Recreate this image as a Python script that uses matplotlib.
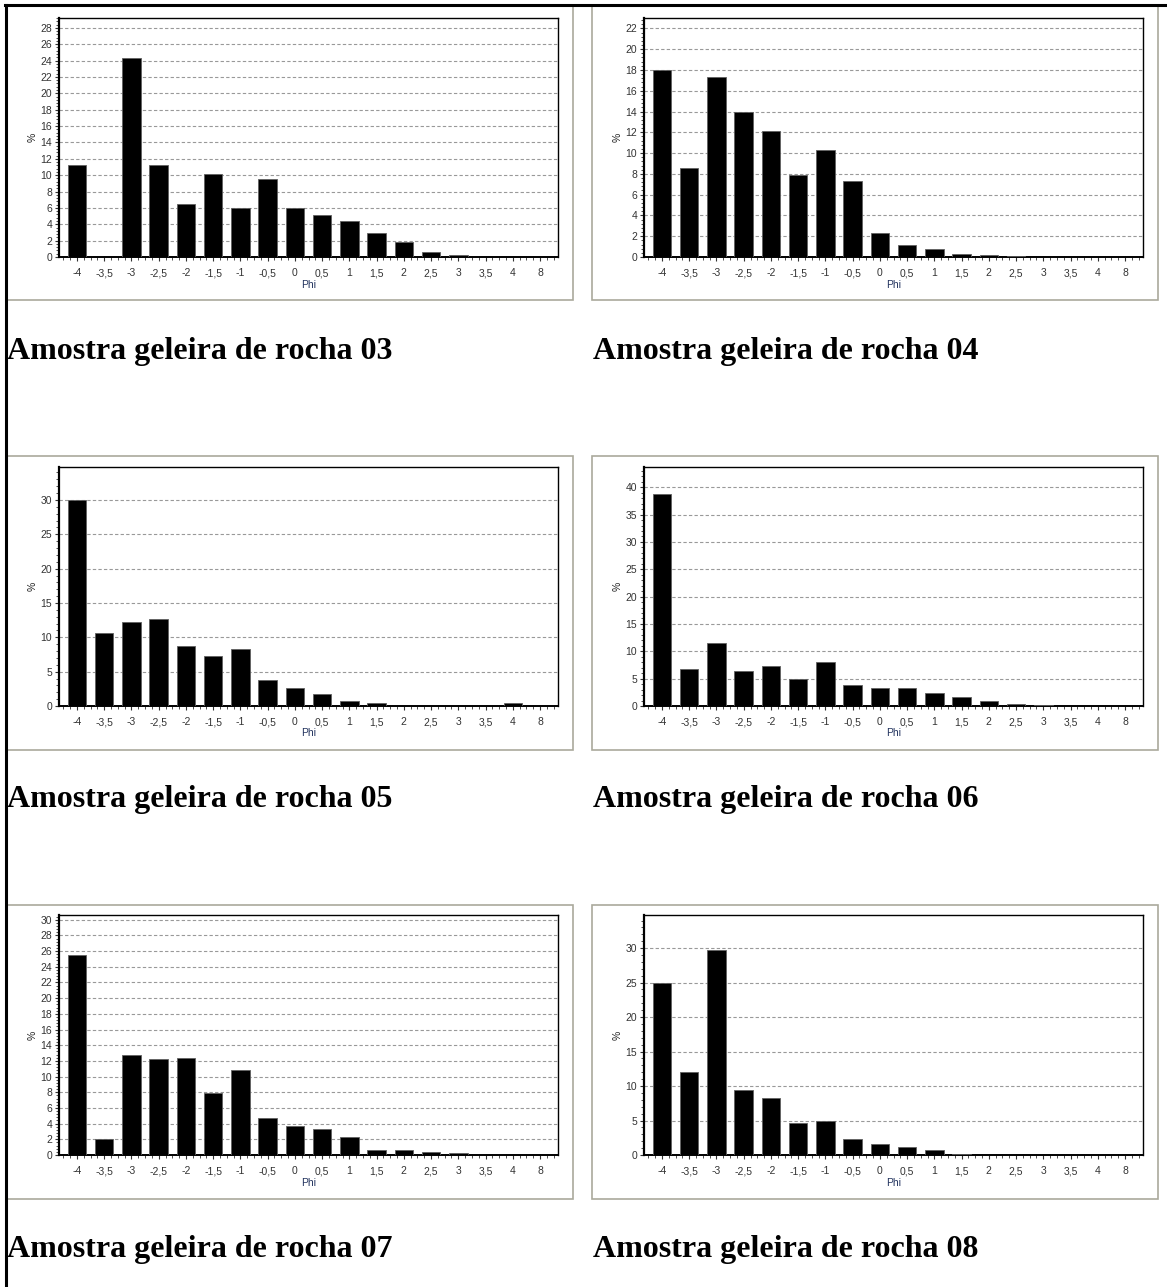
import numpy as np
import matplotlib
matplotlib.use('Agg')
import matplotlib.pyplot as plt
from matplotlib.ticker import MultipleLocator, AutoMinorLocator
from matplotlib.lines import Line2D
from matplotlib.patches import Rectangle

# phi classes (x categories)
phi_labels = ['-4', '-3,5', '-3', '-2,5', '-2', '-1,5', '-1', '-0,5', '0',
              '0,5', '1', '1,5', '2', '2,5', '3', '3,5', '4', '8']

# percentages per sample
s03 = [11.2, 0, 24.3, 11.3, 6.5, 10.2, 6.0, 9.5, 6.0, 5.1, 4.4, 2.9, 1.85, 0.55, 0.3, 0, 0, 0]
s04 = [18.0, 8.6, 17.3, 14.0, 12.1, 7.9, 10.3, 7.3, 2.3, 1.2, 0.75, 0.25, 0.15, 0.05, 0.03, 0.02, 0.02, 0]
s05 = [30.0, 10.6, 12.3, 12.6, 8.7, 7.3, 8.3, 3.8, 2.6, 1.75, 0.8, 0.4, 0.05, 0.05, 0.05, 0.05, 0.4, 0]
s06 = [38.7, 6.7, 11.6, 6.4, 7.4, 4.9, 8.0, 3.8, 3.2, 3.2, 2.3, 1.7, 0.85, 0.45, 0.25, 0.05, 0.05, 0]
s07 = [25.45, 2.1, 12.8, 12.3, 12.4, 7.9, 10.9, 4.7, 3.75, 3.3, 2.25, 0.6, 0.6, 0.38, 0.2, 0.03, 0.03, 0]
s08 = [24.9, 12.0, 29.7, 9.4, 8.25, 4.6, 4.9, 2.3, 1.55, 1.1, 0.7, 0.15, 0.05, 0.05, 0.05, 0.05, 0.05, 0.03]

samples = [s03, s04, s05, s06, s07, s08]
titles = ['Amostra geleira de rocha 03', 'Amostra geleira de rocha 04',
          'Amostra geleira de rocha 05', 'Amostra geleira de rocha 06',
          'Amostra geleira de rocha 07', 'Amostra geleira de rocha 08']
ymax = [29.2, 23.0, 34.8, 43.7, 30.6, 34.8]
ystep = [2, 2, 5, 5, 2, 5]

W, H = 1167, 1287
fig = plt.figure(figsize=(W / 100, H / 100), dpi=100)
fig.patch.set_facecolor('white')

def fx(px):
    return px / W

def fy(py):
    return 1 - py / H

col_box = [(7, 573), (592, 1158)]
row_box = [(5, 300), (456, 750), (905, 1199)]
col_ax = [(59, 558), (644, 1143)]
row_ax = [(18, 257), (467, 706), (915, 1155)]
cap_y = [351, 800, 1249]
cap_x = [7, 593]

x = np.arange(len(phi_labels))

for i, vals in enumerate(samples):
    r, c = divmod(i, 2)
    bx0, bx1 = col_box[c]
    by0, by1 = row_box[r]
    fig.add_artist(Rectangle((fx(bx0), fy(by1)), fx(bx1 - bx0), (by1 - by0) / H,
                             fill=False, edgecolor='#aaa99c', lw=1.2,
                             transform=fig.transFigure))
    ax0, ax1 = col_ax[c]
    ay0, ay1 = row_ax[r]
    ax = fig.add_axes([fx(ax0), fy(ay1), fx(ax1 - ax0), (ay1 - ay0) / H])
    ax.bar(x, vals, width=0.68, color='black', edgecolor='#606060', lw=0.6, zorder=3)
    ax.set_xlim(-0.66, len(phi_labels) - 0.34)
    ax.set_ylim(0, ymax[i])
    ax.set_xticks(x)
    ax.set_xticklabels(phi_labels)
    ax.xaxis.set_minor_locator(MultipleLocator(0.25))
    ax.yaxis.set_major_locator(MultipleLocator(ystep[i]))
    ax.yaxis.set_minor_locator(AutoMinorLocator(5))
    ax.grid(axis='y', which='major', color='#999999', ls=(0, (3, 2)), lw=0.8, zorder=0)
    ax.tick_params(axis='both', which='major', labelsize=7.5, length=3, width=0.8,
                   colors='#333333', pad=2)
    ax.tick_params(axis='x', which='major', pad=5)
    ax.tick_params(axis='both', which='minor', length=2, width=0.6, color='#333333')
    for lab in ax.get_xticklabels() + ax.get_yticklabels():
        lab.set_fontfamily('Liberation Sans')
    for sp in ax.spines.values():
        sp.set_color('black')
        sp.set_linewidth(1.0)
    ax.spines['left'].set_linewidth(1.6)
    ax.spines['bottom'].set_linewidth(1.4)
    ax.set_xlabel('Phi', fontsize=7.5, color='#22335e', family='Liberation Sans', labelpad=1)
    ax.set_ylabel('%', fontsize=7.5, color='#222222', family='Liberation Sans', labelpad=2)
    fig.text(fx(cap_x[c]), fy(cap_y[r]), titles[i], fontsize=23, fontweight='bold',
             family='Liberation Serif', ha='left', va='center')

# outer frame lines (top and left)
fig.add_artist(Line2D([fx(5), 1], [fy(5), fy(5)], color='black', lw=2.2,
                      transform=fig.transFigure))
fig.add_artist(Line2D([fx(6), fx(6)], [fy(5), 0], color='black', lw=2.2,
                      transform=fig.transFigure))

fig.savefig('out.png', dpi=100)
